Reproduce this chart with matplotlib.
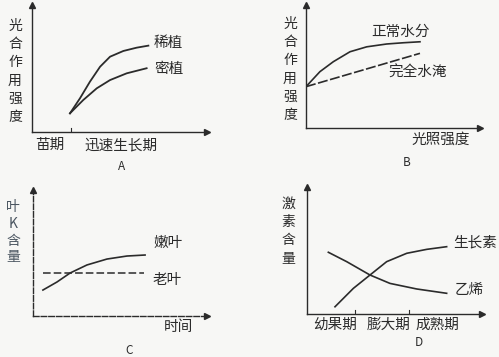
import matplotlib
matplotlib.use('Agg')
import matplotlib.pyplot as plt

plt.rcParams['font.family'] = ['Noto Sans CJK SC', 'DejaVu Sans']

W, H = 499, 357
BG = '#f7f7f5'
INK = '#2b2b2b'

# Panel A: photosynthesis vs. growth stage
a_x_sparse = [2.17, 2.74, 3.31, 3.89, 4.46, 5.22, 5.98, 6.65]
a_sparse = [1.47, 2.65, 3.96, 5.14, 5.93, 6.38, 6.64, 6.8]
a_x_dense = [2.17, 2.93, 3.7, 4.46, 5.41, 6.55]
a_dense = [1.47, 2.52, 3.44, 4.09, 4.62, 5.02]
a_tick = 2.2

# Panel B: photosynthesis vs. light intensity
b_x_normal = [0.0, 0.8, 1.57, 2.53, 3.49, 4.64, 5.59, 6.55]
b_normal = [3.36, 4.58, 5.39, 6.2, 6.6, 6.83, 6.93, 7.01]
b_x_flood = [0.0, 6.55]
b_flood = [3.36, 6.07]

# Panel C: leaf K content vs. time
c_x_old = [0.57, 6.38]
c_old = [3.41, 3.41]
c_x_young = [0.57, 1.38, 2.13, 3.1, 4.25, 5.4, 6.44]
c_young = [2.06, 2.7, 3.41, 4.05, 4.52, 4.76, 4.84]

# Panel D: hormone content vs. fruit stage
d_x_eth = [1.22, 2.27, 3.6, 4.74, 6.27, 7.98]
d_eth = [4.86, 4.12, 3.07, 2.41, 1.97, 1.63]
d_x_aux = [1.6, 2.65, 3.6, 4.55, 5.7, 6.84, 7.98]
d_aux = [0.57, 2.02, 3.07, 4.12, 4.78, 5.09, 5.3]
d_ticks = [2.74, 5.85]


def px(x, y):
    return x / W, 1 - y / H


def make_axes(fig, left, top, right, bottom, ls='-'):
    ax = fig.add_axes([left / W, 1 - bottom / H, (right - left) / W, (bottom - top) / H])
    ax.set_facecolor('none')
    ax.set_xlim(0, 10)
    ax.set_ylim(0, 10)
    for s in ['top', 'right']:
        ax.spines[s].set_visible(False)
    for s in ['left', 'bottom']:
        ax.spines[s].set_color(INK)
        ax.spines[s].set_linewidth(1.0)
        ax.spines[s].set_linestyle(ls)
    ax.set_xticks([])
    ax.set_yticks([])
    ax.plot(1, 0, '>', color=INK, ms=4, transform=ax.transAxes, clip_on=False)
    ax.plot(0, 1, '^', color=INK, ms=4, transform=ax.transAxes, clip_on=False)
    return ax


def vlabel(fig, text, x, y, color=INK, spacing=1.25):
    fig.text(*px(x, y), '\n'.join(text), ha='center', va='top', fontsize=10,
             color=color, linespacing=spacing)


def label(fig, text, x, y, size=10.5, ha='left'):
    fig.text(*px(x, y), text, ha=ha, va='center', fontsize=size, color=INK)


fig = plt.figure(figsize=(W / 100, H / 100), dpi=100)
fig.patch.set_facecolor(BG)

# ── A ──
ax = make_axes(fig, 32, 5, 207, 132)
ax.plot(a_x_sparse, a_sparse, color=INK, lw=1.3)
ax.plot(a_x_dense, a_dense, color=INK, lw=1.3)
ax.plot([a_tick, a_tick], [0, 0.35], color=INK, lw=0.8)
vlabel(fig, '光合作用强度', 15, 19, spacing=1.38)
label(fig, '稀植', 154, 43)
label(fig, '密植', 154, 69)
label(fig, '苗期', 35, 145)
label(fig, '迅速生长期', 84, 145)
label(fig, 'A', 118, 166, size=8.5)

# ── B ──
ax = make_axes(fig, 306, 5, 480, 128)
ax.plot(b_x_normal, b_normal, color=INK, lw=1.2)
ax.plot(b_x_flood, b_flood, color=INK, lw=1.2, ls=(0, (6, 1.5)))
vlabel(fig, '光合作用强度', 290, 17, spacing=1.38)
label(fig, '正常水分', 371, 32)
label(fig, '完全水淹', 388, 73)
label(fig, '光照强度', 411, 140)
label(fig, 'B', 403, 163, size=8.5)

# ── C ──
ax = make_axes(fig, 33, 190, 207, 316, ls=(0, (4, 1.5)))
ax.plot(c_x_old, c_old, color=INK, lw=1.1, ls=(0, (5, 2)))
ax.plot(c_x_young, c_young, color=INK, lw=1.2)
vlabel(fig, '叶K含量', 13, 200, color='#4a5560', spacing=1.25)
label(fig, '嫩叶', 153, 243)
label(fig, '老叶', 153, 280)
label(fig, '时间', 164, 327)
label(fig, 'C', 125, 350, size=8.5)

# ── D ──
ax = make_axes(fig, 307, 187, 482, 314)
ax.plot(d_x_eth, d_eth, color=INK, lw=1.2)
ax.plot(d_x_aux, d_aux, color=INK, lw=1.2)
for t in d_ticks:
    ax.plot([t, t], [0, 0.35], color=INK, lw=0.8)
vlabel(fig, '激素含量', 288, 197, spacing=1.38)
label(fig, '生长素', 453, 242)
label(fig, '乙烯', 455, 290)
label(fig, '幼果期', 313, 325)
label(fig, '膨大期', 367, 325)
label(fig, '成熟期', 415, 325)
label(fig, 'D', 415, 343, size=8.5)

plt.savefig('out.png', dpi=100, facecolor=BG)
plt.close()
